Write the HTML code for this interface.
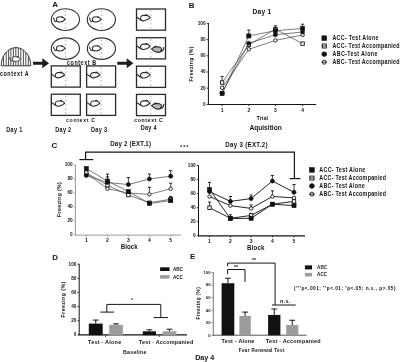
<!DOCTYPE html>
<html><head><meta charset="utf-8"><style>
html,body{margin:0;padding:0;background:#fff;}
svg{display:block;filter:blur(0.3px);}
text{font-family:"Liberation Sans", sans-serif;font-weight:bold;fill:#151515;}
</style></head><body>
<svg width="400" height="362" viewBox="0 0 400 362">
<rect width="400" height="362" fill="#fff"/>
<text x="52.2" y="7.4" font-size="8.0" >A</text>
<ellipse cx="65.4" cy="19.6" rx="14.1" ry="10.9" fill="none" stroke="#333" stroke-width="1.15"/>
<line x1="65.4" y1="10.500000000000002" x2="65.4" y2="29.5" stroke="#9a9a9a" stroke-width="0.9" stroke-dasharray="1.4 2.8"/>
<g transform="translate(65.2 19.400000000000002) scale(1.0 1.0)" stroke="#2e2e2e" stroke-width="1.1" fill="#fff" stroke-linejoin="round">
<path d="M0 0 C-1.2 -1.8 -3 -2.6 -5 -2.6 C-7.4 -2.6 -8.8 -1.2 -8.8 0.3 C-8.8 1.9 -7.2 2.7 -5.2 2.6 C-2.8 2.5 -1.2 1.4 0 0 Z"/>
<circle cx="-3.2" cy="-2.3" r="0.9" fill="#333" stroke="none"/>
<path d="M-8.3 1.4 C-9.6 2.8 -11.1 2.2 -11.7 -1.8" fill="none"/>
</g>
<ellipse cx="65.4" cy="48.6" rx="14.1" ry="10.8" fill="none" stroke="#333" stroke-width="1.15"/>
<line x1="65.4" y1="39.599999999999994" x2="65.4" y2="58.400000000000006" stroke="#9a9a9a" stroke-width="0.9" stroke-dasharray="1.4 2.8"/>
<g transform="translate(65.2 48.4) scale(1.0 1.0)" stroke="#2e2e2e" stroke-width="1.1" fill="#fff" stroke-linejoin="round">
<path d="M0 0 C-1.2 -1.8 -3 -2.6 -5 -2.6 C-7.4 -2.6 -8.8 -1.2 -8.8 0.3 C-8.8 1.9 -7.2 2.7 -5.2 2.6 C-2.8 2.5 -1.2 1.4 0 0 Z"/>
<circle cx="-3.2" cy="-2.3" r="0.9" fill="#333" stroke="none"/>
<path d="M-8.3 1.4 C-9.6 2.8 -11.1 2.2 -11.7 -1.8" fill="none"/>
</g>
<ellipse cx="101.4" cy="19.6" rx="14.1" ry="10.9" fill="none" stroke="#333" stroke-width="1.15"/>
<line x1="101.4" y1="10.500000000000002" x2="101.4" y2="29.5" stroke="#9a9a9a" stroke-width="0.9" stroke-dasharray="1.4 2.8"/>
<g transform="translate(101.2 19.400000000000002) scale(1.0 1.0)" stroke="#2e2e2e" stroke-width="1.1" fill="#fff" stroke-linejoin="round">
<path d="M0 0 C-1.2 -1.8 -3 -2.6 -5 -2.6 C-7.4 -2.6 -8.8 -1.2 -8.8 0.3 C-8.8 1.9 -7.2 2.7 -5.2 2.6 C-2.8 2.5 -1.2 1.4 0 0 Z"/>
<circle cx="-3.2" cy="-2.3" r="0.9" fill="#333" stroke="none"/>
<path d="M-8.3 1.4 C-9.6 2.8 -11.1 2.2 -11.7 -1.8" fill="none"/>
</g>
<ellipse cx="101.4" cy="48.6" rx="14.1" ry="10.8" fill="none" stroke="#333" stroke-width="1.15"/>
<line x1="101.4" y1="39.599999999999994" x2="101.4" y2="58.400000000000006" stroke="#9a9a9a" stroke-width="0.9" stroke-dasharray="1.4 2.8"/>
<g transform="translate(101.2 48.4) scale(1.0 1.0)" stroke="#2e2e2e" stroke-width="1.1" fill="#fff" stroke-linejoin="round">
<path d="M0 0 C-1.2 -1.8 -3 -2.6 -5 -2.6 C-7.4 -2.6 -8.8 -1.2 -8.8 0.3 C-8.8 1.9 -7.2 2.7 -5.2 2.6 C-2.8 2.5 -1.2 1.4 0 0 Z"/>
<circle cx="-3.2" cy="-2.3" r="0.9" fill="#333" stroke="none"/>
<path d="M-8.3 1.4 C-9.6 2.8 -11.1 2.2 -11.7 -1.8" fill="none"/>
</g>
<defs><clipPath id="dome"><path d="M1.2 65.8 A14.8 18.2 0 0 1 30.8 65.8 Z"/></clipPath></defs>
<g clip-path="url(#dome)">
<line x1="3.5" y1="46" x2="3.5" y2="66" stroke="#222" stroke-width="0.8" />
<line x1="6.2" y1="46" x2="6.2" y2="66" stroke="#222" stroke-width="0.8" />
<line x1="8.6" y1="46" x2="8.6" y2="66" stroke="#222" stroke-width="0.8" />
<line x1="10.9" y1="46" x2="10.9" y2="66" stroke="#222" stroke-width="0.8" />
<line x1="13.4" y1="46" x2="13.4" y2="66" stroke="#222" stroke-width="0.8" />
<line x1="15.8" y1="46" x2="15.8" y2="66" stroke="#222" stroke-width="0.8" />
<line x1="18.3" y1="46" x2="18.3" y2="66" stroke="#222" stroke-width="0.8" />
<line x1="20.8" y1="46" x2="20.8" y2="66" stroke="#222" stroke-width="0.8" />
<line x1="23.4" y1="46" x2="23.4" y2="66" stroke="#222" stroke-width="0.8" />
<line x1="25.8" y1="46" x2="25.8" y2="66" stroke="#222" stroke-width="0.8" />
<line x1="28.4" y1="46" x2="28.4" y2="66" stroke="#222" stroke-width="0.8" />
</g>
<g transform="translate(20.6 59.0) scale(0.95 0.95)" stroke="#555" stroke-width="1.1" fill="#fff" stroke-linejoin="round">
<path d="M0 0 C-1.2 -1.8 -3 -2.6 -5 -2.6 C-7.4 -2.6 -8.8 -1.2 -8.8 0.3 C-8.8 1.9 -7.2 2.7 -5.2 2.6 C-2.8 2.5 -1.2 1.4 0 0 Z"/>
<circle cx="-3.2" cy="-2.3" r="0.9" fill="#333" stroke="none"/>
<path d="M-8.3 1.4 C-9.6 2.8 -11.1 2.2 -11.7 -1.8" fill="none"/>
</g>
<path d="M1.2 65.8 A14.8 18.2 0 0 1 30.8 65.8 Z" fill="none" stroke="#2e2e2e" stroke-width="0.95"/>
<text x="0" y="0" font-size="6.3" textLength="33.76" lengthAdjust="spacing" transform="translate(0 76.3) scale(0.85 1)" >context A</text>
<path d="M33 61.75 L42.3 61.75 L42.3 58.3 L49.0 63.3 L42.3 68.3 L42.3 64.85 L33 64.85 Z" fill="#1e1e1e"/>
<path d="M117.3 61.650000000000006 L126.7 61.650000000000006 L126.7 58.2 L133.4 63.2 L126.7 68.2 L126.7 64.75 L117.3 64.75 Z" fill="#1e1e1e"/>
<text x="0" y="0" font-size="6.3" textLength="34.12" lengthAdjust="spacing" transform="translate(67 65.0) scale(0.85 1)" >context B</text>
<rect x="51.3" y="65.9" width="29.0" height="21.2" fill="none" stroke="#2a2a2a" stroke-width="1.3"/>
<line x1="65.7" y1="67.4" x2="65.7" y2="85.9" stroke="#9a9a9a" stroke-width="0.9" stroke-dasharray="1.4 2.8"/>
<g transform="translate(64.75 74.75) scale(1.0 1.0)" stroke="#2e2e2e" stroke-width="1.1" fill="#fff" stroke-linejoin="round">
<path d="M0 0 C-1 -1.2 -2.2 -2 -3.8 -2.1 L-6.8 -2.1 C-8.6 -1.9 -9.6 -0.6 -9.4 1 C-9.2 2.4 -7.8 3.3 -6 3.1 C-3.5 2.8 -1.5 1.4 0 0 Z"/>
<path d="M-2.6 -1.6 C-2.9 -2.8 -4.2 -3 -4.7 -2.1" fill="none" stroke-width="1.1"/>
<path d="M-9 2 C-10 2.5 -11 1 -12 0.2 C-12.6 -0.2 -12.85 -0.4 -13.45 -0.4" fill="none"/>
</g>
<rect x="51.3" y="94.2" width="29.0" height="21.2" fill="none" stroke="#2a2a2a" stroke-width="1.3"/>
<line x1="65.7" y1="95.7" x2="65.7" y2="114.2" stroke="#9a9a9a" stroke-width="0.9" stroke-dasharray="1.4 2.8"/>
<g transform="translate(64.75 103.05) scale(1.0 1.0)" stroke="#2e2e2e" stroke-width="1.1" fill="#fff" stroke-linejoin="round">
<path d="M0 0 C-1 -1.2 -2.2 -2 -3.8 -2.1 L-6.8 -2.1 C-8.6 -1.9 -9.6 -0.6 -9.4 1 C-9.2 2.4 -7.8 3.3 -6 3.1 C-3.5 2.8 -1.5 1.4 0 0 Z"/>
<path d="M-2.6 -1.6 C-2.9 -2.8 -4.2 -3 -4.7 -2.1" fill="none" stroke-width="1.1"/>
<path d="M-9 2 C-10 2.5 -11 1 -12 0.2 C-12.6 -0.2 -12.85 -0.4 -13.45 -0.4" fill="none"/>
</g>
<rect x="86.6" y="65.9" width="29.0" height="21.2" fill="none" stroke="#2a2a2a" stroke-width="1.3"/>
<line x1="101.0" y1="67.4" x2="101.0" y2="85.9" stroke="#9a9a9a" stroke-width="0.9" stroke-dasharray="1.4 2.8"/>
<g transform="translate(100.05 74.75) scale(1.0 1.0)" stroke="#2e2e2e" stroke-width="1.1" fill="#fff" stroke-linejoin="round">
<path d="M0 0 C-1 -1.2 -2.2 -2 -3.8 -2.1 L-6.8 -2.1 C-8.6 -1.9 -9.6 -0.6 -9.4 1 C-9.2 2.4 -7.8 3.3 -6 3.1 C-3.5 2.8 -1.5 1.4 0 0 Z"/>
<path d="M-2.6 -1.6 C-2.9 -2.8 -4.2 -3 -4.7 -2.1" fill="none" stroke-width="1.1"/>
<path d="M-9 2 C-10 2.5 -11 1 -12 0.2 C-12.6 -0.2 -12.85 -0.4 -13.45 -0.4" fill="none"/>
</g>
<rect x="86.6" y="94.2" width="29.0" height="21.2" fill="none" stroke="#2a2a2a" stroke-width="1.3"/>
<line x1="101.0" y1="95.7" x2="101.0" y2="114.2" stroke="#9a9a9a" stroke-width="0.9" stroke-dasharray="1.4 2.8"/>
<g transform="translate(100.05 103.05) scale(1.0 1.0)" stroke="#2e2e2e" stroke-width="1.1" fill="#fff" stroke-linejoin="round">
<path d="M0 0 C-1 -1.2 -2.2 -2 -3.8 -2.1 L-6.8 -2.1 C-8.6 -1.9 -9.6 -0.6 -9.4 1 C-9.2 2.4 -7.8 3.3 -6 3.1 C-3.5 2.8 -1.5 1.4 0 0 Z"/>
<path d="M-2.6 -1.6 C-2.9 -2.8 -4.2 -3 -4.7 -2.1" fill="none" stroke-width="1.1"/>
<path d="M-9 2 C-10 2.5 -11 1 -12 0.2 C-12.6 -0.2 -12.85 -0.4 -13.45 -0.4" fill="none"/>
</g>
<text x="0" y="0" font-size="6.1" textLength="34.12" lengthAdjust="spacing" transform="translate(66 122.1) scale(0.85 1)" >context C</text>
<rect x="136.5" y="9.0" width="29.0" height="21.2" fill="none" stroke="#2a2a2a" stroke-width="1.3"/>
<line x1="150.75" y1="10.5" x2="150.75" y2="29.0" stroke="#9a9a9a" stroke-width="0.9" stroke-dasharray="1.4 2.8"/>
<g transform="translate(150.2 17.6) scale(1.03 1.03)" stroke="#2e2e2e" stroke-width="1.1" fill="#fff" stroke-linejoin="round">
<path d="M0 0 C-1 -1.2 -2.2 -2 -3.8 -2.1 L-6.8 -2.1 C-8.6 -1.9 -9.6 -0.6 -9.4 1 C-9.2 2.4 -7.8 3.3 -6 3.1 C-3.5 2.8 -1.5 1.4 0 0 Z"/>
<path d="M-2.6 -1.6 C-2.9 -2.8 -4.2 -3 -4.7 -2.1" fill="none" stroke-width="1.1"/>
<path d="M-9 2 C-10 2.5 -11 1 -12 0.2 C-12.6 -0.2 -12.9 -0.4 -13.5 -0.4" fill="none"/>
</g>
<rect x="136.5" y="37.7" width="29.0" height="21.2" fill="none" stroke="#2a2a2a" stroke-width="1.3"/>
<line x1="150.75" y1="39.2" x2="150.75" y2="57.7" stroke="#9a9a9a" stroke-width="0.9" stroke-dasharray="1.4 2.8"/>
<g transform="translate(150.2 46.300000000000004) scale(1.03 1.03)" stroke="#2e2e2e" stroke-width="1.1" fill="#fff" stroke-linejoin="round">
<path d="M0 0 C-1 -1.2 -2.2 -2 -3.8 -2.1 L-6.8 -2.1 C-8.6 -1.9 -9.6 -0.6 -9.4 1 C-9.2 2.4 -7.8 3.3 -6 3.1 C-3.5 2.8 -1.5 1.4 0 0 Z"/>
<path d="M-2.6 -1.6 C-2.9 -2.8 -4.2 -3 -4.7 -2.1" fill="none" stroke-width="1.1"/>
<path d="M-9 2 C-10 2.5 -11 1 -12 0.2 C-12.6 -0.2 -12.9 -0.4 -13.5 -0.4" fill="none"/>
</g>
<g transform="translate(151.6 49.1) scale(-1.05 1.05)" stroke="#2e2e2e" stroke-width="1.1" fill="#b8b8b8" stroke-linejoin="round">
<path d="M0 0 C-1 -1.2 -2.2 -2 -3.8 -2.1 L-6.8 -2.1 C-8.6 -1.9 -9.6 -0.6 -9.4 1 C-9.2 2.4 -7.8 3.3 -6 3.1 C-3.5 2.8 -1.5 1.4 0 0 Z"/>
<path d="M-2.6 -1.6 C-2.9 -2.8 -4.2 -3 -4.7 -2.1" fill="none" stroke-width="1.1"/>
<path d="M-8.3 1.4 C-9.6 2.8 -11.1 2.2 -11.7 -1.8" fill="none"/>
</g>
<rect x="136.5" y="66.2" width="29.0" height="21.2" fill="none" stroke="#2a2a2a" stroke-width="1.3"/>
<line x1="150.75" y1="67.7" x2="150.75" y2="86.2" stroke="#9a9a9a" stroke-width="0.9" stroke-dasharray="1.4 2.8"/>
<g transform="translate(150.2 74.8) scale(1.03 1.03)" stroke="#2e2e2e" stroke-width="1.1" fill="#fff" stroke-linejoin="round">
<path d="M0 0 C-1 -1.2 -2.2 -2 -3.8 -2.1 L-6.8 -2.1 C-8.6 -1.9 -9.6 -0.6 -9.4 1 C-9.2 2.4 -7.8 3.3 -6 3.1 C-3.5 2.8 -1.5 1.4 0 0 Z"/>
<path d="M-2.6 -1.6 C-2.9 -2.8 -4.2 -3 -4.7 -2.1" fill="none" stroke-width="1.1"/>
<path d="M-9 2 C-10 2.5 -11 1 -12 0.2 C-12.6 -0.2 -12.9 -0.4 -13.5 -0.4" fill="none"/>
</g>
<rect x="136.5" y="94.4" width="29.0" height="21.2" fill="none" stroke="#2a2a2a" stroke-width="1.3"/>
<line x1="150.75" y1="95.9" x2="150.75" y2="114.4" stroke="#9a9a9a" stroke-width="0.9" stroke-dasharray="1.4 2.8"/>
<g transform="translate(150.2 103.0) scale(1.03 1.03)" stroke="#2e2e2e" stroke-width="1.1" fill="#fff" stroke-linejoin="round">
<path d="M0 0 C-1 -1.2 -2.2 -2 -3.8 -2.1 L-6.8 -2.1 C-8.6 -1.9 -9.6 -0.6 -9.4 1 C-9.2 2.4 -7.8 3.3 -6 3.1 C-3.5 2.8 -1.5 1.4 0 0 Z"/>
<path d="M-2.6 -1.6 C-2.9 -2.8 -4.2 -3 -4.7 -2.1" fill="none" stroke-width="1.1"/>
<path d="M-9 2 C-10 2.5 -11 1 -12 0.2 C-12.6 -0.2 -12.9 -0.4 -13.5 -0.4" fill="none"/>
</g>
<g transform="translate(151.6 105.80000000000001) scale(-1.05 1.05)" stroke="#2e2e2e" stroke-width="1.1" fill="#b8b8b8" stroke-linejoin="round">
<path d="M0 0 C-1 -1.2 -2.2 -2 -3.8 -2.1 L-6.8 -2.1 C-8.6 -1.9 -9.6 -0.6 -9.4 1 C-9.2 2.4 -7.8 3.3 -6 3.1 C-3.5 2.8 -1.5 1.4 0 0 Z"/>
<path d="M-2.6 -1.6 C-2.9 -2.8 -4.2 -3 -4.7 -2.1" fill="none" stroke-width="1.1"/>
<path d="M-8.3 1.4 C-9.6 2.8 -11.1 2.2 -11.7 -1.8" fill="none"/>
</g>
<text x="0" y="0" font-size="6.1" textLength="33.65" lengthAdjust="spacing" transform="translate(134.2 121.8) scale(0.85 1)" >context C</text>
<text x="0" y="0" font-size="6.5" textLength="19.06" lengthAdjust="spacing" transform="translate(6.2 132.1) scale(0.85 1)" >Day 1</text>
<text x="0" y="0" font-size="6.5" textLength="18.82" lengthAdjust="spacing" transform="translate(55.2 132.1) scale(0.85 1)" >Day 2</text>
<text x="0" y="0" font-size="6.5" textLength="19.06" lengthAdjust="spacing" transform="translate(91 131.6) scale(0.85 1)" >Day 3</text>
<text x="0" y="0" font-size="6.5" textLength="18.59" lengthAdjust="spacing" transform="translate(140.7 129.9) scale(0.85 1)" >Day 4</text>
<text x="188.8" y="7.8" font-size="8.0" >B</text>
<text x="252.5" y="13.6" font-size="6.6" textLength="18.6" lengthAdjust="spacing" >Day 1</text>
<line x1="208.4" y1="23.0" x2="208.4" y2="104.9" stroke="#151515" stroke-width="1.0" />
<line x1="206.6" y1="104.4" x2="208.4" y2="104.4" stroke="#151515" stroke-width="0.8" />
<text x="205.6" y="105.892" font-size="4.7" text-anchor="end" >0</text>
<line x1="206.6" y1="88.2" x2="208.4" y2="88.2" stroke="#151515" stroke-width="0.8" />
<text x="205.6" y="89.692" font-size="4.7" text-anchor="end" >20</text>
<line x1="206.6" y1="72.0" x2="208.4" y2="72.0" stroke="#151515" stroke-width="0.8" />
<text x="205.6" y="73.49199999999999" font-size="4.7" text-anchor="end" >40</text>
<line x1="206.6" y1="55.800000000000004" x2="208.4" y2="55.800000000000004" stroke="#151515" stroke-width="0.8" />
<text x="205.6" y="57.292" font-size="4.7" text-anchor="end" >60</text>
<line x1="206.6" y1="39.60000000000001" x2="208.4" y2="39.60000000000001" stroke="#151515" stroke-width="0.8" />
<text x="205.6" y="41.092000000000006" font-size="4.7" text-anchor="end" >80</text>
<line x1="206.6" y1="23.400000000000006" x2="208.4" y2="23.400000000000006" stroke="#151515" stroke-width="0.8" />
<text x="205.6" y="24.892000000000007" font-size="4.7" text-anchor="end" >100</text>
<line x1="207.9" y1="104.5" x2="316.2" y2="104.5" stroke="#151515" stroke-width="1.2" />
<line x1="222.1" y1="104.4" x2="222.1" y2="106.2" stroke="#151515" stroke-width="0.8" />
<text x="222.1" y="112.2" font-size="5.0" text-anchor="middle" >1</text>
<line x1="248.8" y1="104.4" x2="248.8" y2="106.2" stroke="#151515" stroke-width="0.8" />
<text x="248.8" y="112.2" font-size="5.0" text-anchor="middle" >2</text>
<line x1="275.4" y1="104.4" x2="275.4" y2="106.2" stroke="#151515" stroke-width="0.8" />
<text x="275.4" y="112.2" font-size="5.0" text-anchor="middle" >3</text>
<line x1="302.6" y1="104.4" x2="302.6" y2="106.2" stroke="#151515" stroke-width="0.8" />
<text x="302.6" y="112.2" font-size="5.0" text-anchor="middle" >4</text>
<text x="256.6" y="120.1" font-size="5.5" textLength="11.4" lengthAdjust="spacing" >Trial</text>
<text x="249.4" y="129.6" font-size="6.6" textLength="32.4" lengthAdjust="spacing" >Aquisition</text>
<text x="0" y="0" font-size="6.2" text-anchor="middle" textLength="41.90" lengthAdjust="spacing" transform="translate(193.4 64) rotate(-90) scale(0.84 1)" >Freezing (%)</text>
<polyline points="222.10,87.80 248.80,49.32 275.40,40.41 302.60,34.98" stroke="#444" stroke-width="0.7" fill="none"/>
<polyline points="222.10,82.53 248.80,44.87 275.40,29.07 302.60,43.65" stroke="#444" stroke-width="0.7" fill="none"/>
<line x1="222.1" y1="82.53" x2="222.1" y2="76.455" stroke="#151515" stroke-width="0.8" />
<line x1="220.5" y1="76.455" x2="223.7" y2="76.455" stroke="#151515" stroke-width="0.9" />
<polyline points="222.10,93.06 248.80,43.25 275.40,34.74 302.60,31.99" stroke="#444" stroke-width="0.7" fill="none"/>
<polyline points="222.10,93.55 248.80,35.95 275.40,30.69 302.60,28.50" stroke="#444" stroke-width="0.7" fill="none"/>
<line x1="248.8" y1="35.955" x2="248.8" y2="30.041999999999998" stroke="#151515" stroke-width="0.8" />
<line x1="247.20000000000002" y1="30.041999999999998" x2="250.4" y2="30.041999999999998" stroke="#151515" stroke-width="0.9" />
<line x1="275.4" y1="30.689999999999998" x2="275.4" y2="25.83" stroke="#151515" stroke-width="0.8" />
<line x1="273.79999999999995" y1="25.83" x2="277.0" y2="25.83" stroke="#151515" stroke-width="0.9" />
<line x1="302.6" y1="28.503" x2="302.6" y2="24.21" stroke="#151515" stroke-width="0.8" />
<line x1="301.0" y1="24.21" x2="304.20000000000005" y2="24.21" stroke="#151515" stroke-width="0.9" />
<circle cx="222.1" cy="87.80" r="1.7000000000000002" fill="#fff" stroke="#111" stroke-width="0.9"/>
<circle cx="248.8" cy="49.32" r="1.7000000000000002" fill="#fff" stroke="#111" stroke-width="0.9"/>
<circle cx="275.4" cy="40.41" r="1.7000000000000002" fill="#fff" stroke="#111" stroke-width="0.9"/>
<circle cx="302.6" cy="34.98" r="1.7000000000000002" fill="#fff" stroke="#111" stroke-width="0.9"/>
<rect x="220.40" y="80.83" width="3.4000000000000004" height="3.4000000000000004" fill="#fff" stroke="#111" stroke-width="0.9"/>
<rect x="247.10" y="43.16" width="3.4000000000000004" height="3.4000000000000004" fill="#fff" stroke="#111" stroke-width="0.9"/>
<rect x="273.70" y="27.37" width="3.4000000000000004" height="3.4000000000000004" fill="#fff" stroke="#111" stroke-width="0.9"/>
<rect x="300.90" y="41.95" width="3.4000000000000004" height="3.4000000000000004" fill="#fff" stroke="#111" stroke-width="0.9"/>
<circle cx="222.1" cy="93.06" r="2.1" fill="#111" stroke="#111" stroke-width="0.5"/>
<circle cx="248.8" cy="43.25" r="2.1" fill="#111" stroke="#111" stroke-width="0.5"/>
<circle cx="275.4" cy="34.74" r="2.1" fill="#111" stroke="#111" stroke-width="0.5"/>
<circle cx="302.6" cy="31.99" r="2.1" fill="#111" stroke="#111" stroke-width="0.5"/>
<rect x="220.00" y="91.45" width="4.2" height="4.2" fill="#111" stroke="#111" stroke-width="0.5"/>
<rect x="246.70" y="33.85" width="4.2" height="4.2" fill="#111" stroke="#111" stroke-width="0.5"/>
<rect x="273.30" y="28.59" width="4.2" height="4.2" fill="#111" stroke="#111" stroke-width="0.5"/>
<rect x="300.50" y="26.40" width="4.2" height="4.2" fill="#111" stroke="#111" stroke-width="0.5"/>
<rect x="321.90" y="35.80" width="4.8" height="4.8" fill="#111" stroke="#111" stroke-width="0.5"/>
<line x1="321.6" y1="38.2" x2="327.0" y2="38.2" stroke="#151515" stroke-width="0.9" />
<text x="0" y="0" font-size="6.3" textLength="54.24" lengthAdjust="spacing" transform="translate(332.4 40.468) scale(0.85 1)" >ACC- Test Alone</text>
<rect x="322.30" y="44.00" width="4.0" height="4.0" fill="#fff" stroke="#111" stroke-width="0.9"/>
<line x1="321.6" y1="46.0" x2="327.0" y2="46.0" stroke="#151515" stroke-width="0.9" />
<text x="0" y="0" font-size="6.3" textLength="79.06" lengthAdjust="spacing" transform="translate(332.4 48.268) scale(0.85 1)" >ACC- Test Accompanied</text>
<circle cx="324.3" cy="54.20" r="2.4" fill="#111" stroke="#111" stroke-width="0.5"/>
<line x1="321.6" y1="54.2" x2="327.0" y2="54.2" stroke="#151515" stroke-width="0.9" />
<text x="0" y="0" font-size="6.3" textLength="53.06" lengthAdjust="spacing" transform="translate(332.4 56.468) scale(0.85 1)" >ABC-Test Alone</text>
<circle cx="324.3" cy="62.20" r="2.0" fill="#fff" stroke="#111" stroke-width="0.9"/>
<line x1="321.6" y1="62.2" x2="327.0" y2="62.2" stroke="#151515" stroke-width="0.9" />
<text x="0" y="0" font-size="6.3" textLength="79.06" lengthAdjust="spacing" transform="translate(332.4 64.468) scale(0.85 1)" >ABC- Test Accompanied</text>
<text x="51.6" y="148.4" font-size="8.0" >C</text>
<text x="0" y="0" font-size="7.0" textLength="46.36" lengthAdjust="spacing" transform="translate(110.2 146.4) scale(0.88 1)" >Day 2 (EXT.1)</text>
<text x="184.2" y="148.8" font-size="5.4" text-anchor="middle" textLength="8.4" lengthAdjust="spacing" >***</text>
<text x="0" y="0" font-size="7.0" textLength="48.07" lengthAdjust="spacing" transform="translate(225.2 146.5) scale(0.88 1)" >Day 3 (EXT.2)</text>
<polyline points="85.60,159.60 85.60,152.20 294.40,152.20 294.40,178.60" stroke="#151515" stroke-width="1.2" fill="none"/>
<line x1="79.4" y1="159.6" x2="93.2" y2="159.6" stroke="#151515" stroke-width="1.2" />
<line x1="289.6" y1="178.6" x2="300.4" y2="178.6" stroke="#151515" stroke-width="1.2" />
<line x1="75.4" y1="164.6" x2="75.4" y2="235.4" stroke="#999" stroke-width="1.0" />
<line x1="73.60000000000001" y1="234.9" x2="75.4" y2="234.9" stroke="#999" stroke-width="0.8" />
<text x="72.60000000000001" y="236.39200000000002" font-size="4.7" text-anchor="end" fill="#333" >0</text>
<line x1="73.60000000000001" y1="220.92000000000002" x2="75.4" y2="220.92000000000002" stroke="#999" stroke-width="0.8" />
<text x="72.60000000000001" y="222.41200000000003" font-size="4.7" text-anchor="end" fill="#333" >20</text>
<line x1="73.60000000000001" y1="206.94" x2="75.4" y2="206.94" stroke="#999" stroke-width="0.8" />
<text x="72.60000000000001" y="208.43200000000002" font-size="4.7" text-anchor="end" fill="#333" >40</text>
<line x1="73.60000000000001" y1="192.96" x2="75.4" y2="192.96" stroke="#999" stroke-width="0.8" />
<text x="72.60000000000001" y="194.45200000000003" font-size="4.7" text-anchor="end" fill="#333" >60</text>
<line x1="73.60000000000001" y1="178.98000000000002" x2="75.4" y2="178.98000000000002" stroke="#999" stroke-width="0.8" />
<text x="72.60000000000001" y="180.47200000000004" font-size="4.7" text-anchor="end" fill="#333" >80</text>
<line x1="73.60000000000001" y1="165.0" x2="75.4" y2="165.0" stroke="#999" stroke-width="0.8" />
<text x="72.60000000000001" y="166.49200000000002" font-size="4.7" text-anchor="end" fill="#333" >100</text>
<line x1="74.9" y1="235.1" x2="181" y2="235.1" stroke="#999" stroke-width="1.0" />
<line x1="86.3" y1="235.1" x2="86.3" y2="237" stroke="#999" stroke-width="0.8" />
<text x="86.3" y="242.0" font-size="5.0" text-anchor="middle" fill="#333" >1</text>
<line x1="107.5" y1="235.1" x2="107.5" y2="237" stroke="#999" stroke-width="0.8" />
<text x="107.5" y="242.0" font-size="5.0" text-anchor="middle" fill="#333" >2</text>
<line x1="128.4" y1="235.1" x2="128.4" y2="237" stroke="#999" stroke-width="0.8" />
<text x="128.4" y="242.0" font-size="5.0" text-anchor="middle" fill="#333" >3</text>
<line x1="149.4" y1="235.1" x2="149.4" y2="237" stroke="#999" stroke-width="0.8" />
<text x="149.4" y="242.0" font-size="5.0" text-anchor="middle" fill="#333" >4</text>
<line x1="170.7" y1="235.1" x2="170.7" y2="237" stroke="#999" stroke-width="0.8" />
<text x="170.7" y="242.0" font-size="5.0" text-anchor="middle" fill="#333" >5</text>
<text x="0" y="0" font-size="6.7" textLength="18.37" lengthAdjust="spacing" transform="translate(120.7 249.3) scale(0.92 1)" >Block</text>
<text x="0" y="0" font-size="6.2" text-anchor="middle" textLength="41.43" lengthAdjust="spacing" transform="translate(60.9 199.6) rotate(-90) scale(0.84 1)" >Freezing (%)</text>
<polyline points="86.30,173.39 107.50,188.77 128.40,192.96 149.40,194.36 170.70,188.77" stroke="#444" stroke-width="0.7" fill="none"/>
<line x1="149.4" y1="194.358" x2="149.4" y2="187.368" stroke="#151515" stroke-width="0.8" />
<line x1="147.8" y1="187.368" x2="151.0" y2="187.368" stroke="#151515" stroke-width="0.9" />
<line x1="170.7" y1="188.76600000000002" x2="170.7" y2="183.174" stroke="#151515" stroke-width="0.8" />
<line x1="169.1" y1="183.174" x2="172.29999999999998" y2="183.174" stroke="#151515" stroke-width="0.9" />
<polyline points="86.30,172.69 107.50,185.27 128.40,195.06 149.40,202.75 170.70,199.25" stroke="#444" stroke-width="0.7" fill="none"/>
<polyline points="86.30,175.49 107.50,182.48 128.40,184.57 149.40,178.98 170.70,176.18" stroke="#444" stroke-width="0.7" fill="none"/>
<line x1="107.5" y1="182.47500000000002" x2="107.5" y2="176.883" stroke="#151515" stroke-width="0.8" />
<line x1="105.9" y1="176.883" x2="109.1" y2="176.883" stroke="#151515" stroke-width="0.9" />
<line x1="128.4" y1="184.572" x2="128.4" y2="177.582" stroke="#151515" stroke-width="0.8" />
<line x1="126.80000000000001" y1="177.582" x2="130.0" y2="177.582" stroke="#151515" stroke-width="0.9" />
<line x1="149.4" y1="178.98000000000002" x2="149.4" y2="174.08700000000002" stroke="#151515" stroke-width="0.8" />
<line x1="147.8" y1="174.08700000000002" x2="151.0" y2="174.08700000000002" stroke="#151515" stroke-width="0.9" />
<line x1="170.7" y1="176.18400000000003" x2="170.7" y2="170.592" stroke="#151515" stroke-width="0.8" />
<line x1="169.1" y1="170.592" x2="172.29999999999998" y2="170.592" stroke="#151515" stroke-width="0.9" />
<polyline points="86.30,168.50 107.50,181.08 128.40,191.56 149.40,203.44 170.70,200.65" stroke="#444" stroke-width="0.7" fill="none"/>
<line x1="107.5" y1="181.077" x2="107.5" y2="174.087" stroke="#151515" stroke-width="0.8" />
<line x1="105.9" y1="174.087" x2="109.1" y2="174.087" stroke="#151515" stroke-width="0.9" />
<line x1="170.7" y1="200.649" x2="170.7" y2="196.455" stroke="#151515" stroke-width="0.8" />
<line x1="169.1" y1="196.455" x2="172.29999999999998" y2="196.455" stroke="#151515" stroke-width="0.9" />
<circle cx="86.3" cy="173.39" r="1.7000000000000002" fill="#fff" stroke="#111" stroke-width="0.9"/>
<circle cx="107.5" cy="188.77" r="1.7000000000000002" fill="#fff" stroke="#111" stroke-width="0.9"/>
<circle cx="128.4" cy="192.96" r="1.7000000000000002" fill="#fff" stroke="#111" stroke-width="0.9"/>
<circle cx="149.4" cy="194.36" r="1.7000000000000002" fill="#fff" stroke="#111" stroke-width="0.9"/>
<circle cx="170.7" cy="188.77" r="1.7000000000000002" fill="#fff" stroke="#111" stroke-width="0.9"/>
<rect x="84.60" y="170.99" width="3.4000000000000004" height="3.4000000000000004" fill="#fff" stroke="#111" stroke-width="0.9"/>
<rect x="105.80" y="183.57" width="3.4000000000000004" height="3.4000000000000004" fill="#fff" stroke="#111" stroke-width="0.9"/>
<rect x="126.70" y="193.36" width="3.4000000000000004" height="3.4000000000000004" fill="#fff" stroke="#111" stroke-width="0.9"/>
<rect x="147.70" y="201.05" width="3.4000000000000004" height="3.4000000000000004" fill="#fff" stroke="#111" stroke-width="0.9"/>
<rect x="169.00" y="197.55" width="3.4000000000000004" height="3.4000000000000004" fill="#fff" stroke="#111" stroke-width="0.9"/>
<circle cx="86.3" cy="175.49" r="2.1" fill="#111" stroke="#111" stroke-width="0.5"/>
<circle cx="107.5" cy="182.48" r="2.1" fill="#111" stroke="#111" stroke-width="0.5"/>
<circle cx="128.4" cy="184.57" r="2.1" fill="#111" stroke="#111" stroke-width="0.5"/>
<circle cx="149.4" cy="178.98" r="2.1" fill="#111" stroke="#111" stroke-width="0.5"/>
<circle cx="170.7" cy="176.18" r="2.1" fill="#111" stroke="#111" stroke-width="0.5"/>
<rect x="84.20" y="166.40" width="4.2" height="4.2" fill="#111" stroke="#111" stroke-width="0.5"/>
<rect x="105.40" y="178.98" width="4.2" height="4.2" fill="#111" stroke="#111" stroke-width="0.5"/>
<rect x="126.30" y="189.46" width="4.2" height="4.2" fill="#111" stroke="#111" stroke-width="0.5"/>
<rect x="147.30" y="201.34" width="4.2" height="4.2" fill="#111" stroke="#111" stroke-width="0.5"/>
<rect x="168.60" y="198.55" width="4.2" height="4.2" fill="#111" stroke="#111" stroke-width="0.5"/>
<line x1="198.5" y1="165.2" x2="198.5" y2="236.3" stroke="#151515" stroke-width="1.0" />
<line x1="196.7" y1="235.8" x2="198.5" y2="235.8" stroke="#151515" stroke-width="0.8" />
<text x="195.7" y="237.29200000000003" font-size="4.7" text-anchor="end" >0</text>
<line x1="196.7" y1="221.76000000000002" x2="198.5" y2="221.76000000000002" stroke="#151515" stroke-width="0.8" />
<text x="195.7" y="223.25200000000004" font-size="4.7" text-anchor="end" >20</text>
<line x1="196.7" y1="207.72" x2="198.5" y2="207.72" stroke="#151515" stroke-width="0.8" />
<text x="195.7" y="209.21200000000002" font-size="4.7" text-anchor="end" >40</text>
<line x1="196.7" y1="193.68" x2="198.5" y2="193.68" stroke="#151515" stroke-width="0.8" />
<text x="195.7" y="195.17200000000003" font-size="4.7" text-anchor="end" >60</text>
<line x1="196.7" y1="179.64" x2="198.5" y2="179.64" stroke="#151515" stroke-width="0.8" />
<text x="195.7" y="181.132" font-size="4.7" text-anchor="end" >80</text>
<line x1="196.7" y1="165.6" x2="198.5" y2="165.6" stroke="#151515" stroke-width="0.8" />
<text x="195.7" y="167.092" font-size="4.7" text-anchor="end" >100</text>
<line x1="198.0" y1="235.8" x2="305" y2="235.8" stroke="#151515" stroke-width="1.2" />
<line x1="209.5" y1="235.8" x2="209.5" y2="237.6" stroke="#151515" stroke-width="0.8" />
<text x="209.5" y="243.2" font-size="5.0" text-anchor="middle" >1</text>
<line x1="230.4" y1="235.8" x2="230.4" y2="237.6" stroke="#151515" stroke-width="0.8" />
<text x="230.4" y="243.2" font-size="5.0" text-anchor="middle" >2</text>
<line x1="251.1" y1="235.8" x2="251.1" y2="237.6" stroke="#151515" stroke-width="0.8" />
<text x="251.1" y="243.2" font-size="5.0" text-anchor="middle" >3</text>
<line x1="272.4" y1="235.8" x2="272.4" y2="237.6" stroke="#151515" stroke-width="0.8" />
<text x="272.4" y="243.2" font-size="5.0" text-anchor="middle" >4</text>
<line x1="294.0" y1="235.8" x2="294.0" y2="237.6" stroke="#151515" stroke-width="0.8" />
<text x="294.0" y="243.2" font-size="5.0" text-anchor="middle" >5</text>
<text x="0" y="0" font-size="6.7" textLength="18.91" lengthAdjust="spacing" transform="translate(247 249.6) scale(0.92 1)" >Block</text>
<polyline points="209.50,196.49 230.40,205.61 251.10,208.42 272.40,196.49 294.00,197.89" stroke="#262626" stroke-width="1.0" fill="none"/>
<line x1="251.1" y1="208.42200000000003" x2="251.1" y2="204.91200000000003" stroke="#151515" stroke-width="0.8" />
<line x1="249.5" y1="204.91200000000003" x2="252.7" y2="204.91200000000003" stroke="#151515" stroke-width="0.9" />
<line x1="272.4" y1="196.488" x2="272.4" y2="190.872" stroke="#151515" stroke-width="0.8" />
<line x1="270.79999999999995" y1="190.872" x2="274.0" y2="190.872" stroke="#151515" stroke-width="0.9" />
<polyline points="209.50,207.72 230.40,218.25 251.10,215.44 272.40,204.21 294.00,201.40" stroke="#262626" stroke-width="1.0" fill="none"/>
<line x1="209.5" y1="207.72000000000003" x2="209.5" y2="202.10400000000004" stroke="#151515" stroke-width="0.8" />
<line x1="207.9" y1="202.10400000000004" x2="211.1" y2="202.10400000000004" stroke="#151515" stroke-width="0.9" />
<line x1="230.4" y1="218.25" x2="230.4" y2="214.74" stroke="#151515" stroke-width="0.8" />
<line x1="228.8" y1="214.74" x2="232.0" y2="214.74" stroke="#151515" stroke-width="0.9" />
<line x1="251.1" y1="215.442" x2="251.1" y2="213.336" stroke="#151515" stroke-width="0.8" />
<line x1="249.5" y1="213.336" x2="252.7" y2="213.336" stroke="#151515" stroke-width="0.9" />
<line x1="294.0" y1="201.40200000000002" x2="294.0" y2="197.19000000000003" stroke="#151515" stroke-width="0.8" />
<line x1="292.4" y1="197.19000000000003" x2="295.6" y2="197.19000000000003" stroke="#151515" stroke-width="0.9" />
<polyline points="209.50,191.57 230.40,201.40 251.10,198.59 272.40,181.04 294.00,192.28" stroke="#262626" stroke-width="1.0" fill="none"/>
<line x1="230.4" y1="201.40200000000002" x2="230.4" y2="196.48800000000003" stroke="#151515" stroke-width="0.8" />
<line x1="228.8" y1="196.48800000000003" x2="232.0" y2="196.48800000000003" stroke="#151515" stroke-width="0.9" />
<line x1="251.1" y1="198.59400000000002" x2="251.1" y2="195.08400000000003" stroke="#151515" stroke-width="0.8" />
<line x1="249.5" y1="195.08400000000003" x2="252.7" y2="195.08400000000003" stroke="#151515" stroke-width="0.9" />
<line x1="272.4" y1="181.044" x2="272.4" y2="175.428" stroke="#151515" stroke-width="0.8" />
<line x1="270.79999999999995" y1="175.428" x2="274.0" y2="175.428" stroke="#151515" stroke-width="0.9" />
<line x1="294.0" y1="192.276" x2="294.0" y2="184.554" stroke="#151515" stroke-width="0.8" />
<line x1="292.4" y1="184.554" x2="295.6" y2="184.554" stroke="#151515" stroke-width="0.9" />
<polyline points="209.50,189.47 230.40,218.60 251.10,218.25 272.40,204.21 294.00,205.61" stroke="#262626" stroke-width="1.0" fill="none"/>
<line x1="209.5" y1="189.46800000000002" x2="209.5" y2="182.448" stroke="#151515" stroke-width="0.8" />
<line x1="207.9" y1="182.448" x2="211.1" y2="182.448" stroke="#151515" stroke-width="0.9" />
<circle cx="209.5" cy="196.49" r="1.7000000000000002" fill="#fff" stroke="#111" stroke-width="0.9"/>
<circle cx="230.4" cy="205.61" r="1.7000000000000002" fill="#fff" stroke="#111" stroke-width="0.9"/>
<circle cx="251.1" cy="208.42" r="1.7000000000000002" fill="#fff" stroke="#111" stroke-width="0.9"/>
<circle cx="272.4" cy="196.49" r="1.7000000000000002" fill="#fff" stroke="#111" stroke-width="0.9"/>
<circle cx="294.0" cy="197.89" r="1.7000000000000002" fill="#fff" stroke="#111" stroke-width="0.9"/>
<rect x="207.80" y="206.02" width="3.4000000000000004" height="3.4000000000000004" fill="#fff" stroke="#111" stroke-width="0.9"/>
<rect x="228.70" y="216.55" width="3.4000000000000004" height="3.4000000000000004" fill="#fff" stroke="#111" stroke-width="0.9"/>
<rect x="249.40" y="213.74" width="3.4000000000000004" height="3.4000000000000004" fill="#fff" stroke="#111" stroke-width="0.9"/>
<rect x="270.70" y="202.51" width="3.4000000000000004" height="3.4000000000000004" fill="#fff" stroke="#111" stroke-width="0.9"/>
<rect x="292.30" y="199.70" width="3.4000000000000004" height="3.4000000000000004" fill="#fff" stroke="#111" stroke-width="0.9"/>
<circle cx="209.5" cy="191.57" r="2.1" fill="#111" stroke="#111" stroke-width="0.5"/>
<circle cx="230.4" cy="201.40" r="2.1" fill="#111" stroke="#111" stroke-width="0.5"/>
<circle cx="251.1" cy="198.59" r="2.1" fill="#111" stroke="#111" stroke-width="0.5"/>
<circle cx="272.4" cy="181.04" r="2.1" fill="#111" stroke="#111" stroke-width="0.5"/>
<circle cx="294.0" cy="192.28" r="2.1" fill="#111" stroke="#111" stroke-width="0.5"/>
<rect x="207.40" y="187.37" width="4.2" height="4.2" fill="#111" stroke="#111" stroke-width="0.5"/>
<rect x="228.30" y="216.50" width="4.2" height="4.2" fill="#111" stroke="#111" stroke-width="0.5"/>
<rect x="249.00" y="216.15" width="4.2" height="4.2" fill="#111" stroke="#111" stroke-width="0.5"/>
<rect x="270.30" y="202.11" width="4.2" height="4.2" fill="#111" stroke="#111" stroke-width="0.5"/>
<rect x="291.90" y="203.51" width="4.2" height="4.2" fill="#111" stroke="#111" stroke-width="0.5"/>
<rect x="309.50" y="167.50" width="4.8" height="4.8" fill="#111" stroke="#111" stroke-width="0.5"/>
<line x1="309.2" y1="169.9" x2="314.59999999999997" y2="169.9" stroke="#151515" stroke-width="0.9" />
<text x="0" y="0" font-size="6.3" textLength="54.00" lengthAdjust="spacing" transform="translate(319.3 172.168) scale(0.85 1)" >ACC- Test Alone</text>
<rect x="309.90" y="176.10" width="4.0" height="4.0" fill="#fff" stroke="#111" stroke-width="0.9"/>
<line x1="309.2" y1="178.1" x2="314.59999999999997" y2="178.1" stroke="#151515" stroke-width="0.9" />
<text x="0" y="0" font-size="6.3" textLength="78.59" lengthAdjust="spacing" transform="translate(319.3 180.368) scale(0.85 1)" >ACC- Test Accompanied</text>
<circle cx="311.9" cy="186.00" r="2.4" fill="#111" stroke="#111" stroke-width="0.5"/>
<line x1="309.2" y1="186.0" x2="314.59999999999997" y2="186.0" stroke="#151515" stroke-width="0.9" />
<text x="0" y="0" font-size="6.3" textLength="53.41" lengthAdjust="spacing" transform="translate(319.3 188.268) scale(0.85 1)" >ABC- Test Alone</text>
<circle cx="311.9" cy="194.20" r="2.0" fill="#fff" stroke="#111" stroke-width="0.9"/>
<line x1="309.2" y1="194.2" x2="314.59999999999997" y2="194.2" stroke="#151515" stroke-width="0.9" />
<text x="0" y="0" font-size="6.3" textLength="78.59" lengthAdjust="spacing" transform="translate(319.3 196.468) scale(0.85 1)" >ABC- Test Accompanied</text>
<text x="52.2" y="259.5" font-size="8.0" >D</text>
<line x1="79.2" y1="263.8" x2="79.2" y2="335.3" stroke="#151515" stroke-width="1.0" />
<line x1="77.4" y1="334.8" x2="79.2" y2="334.8" stroke="#151515" stroke-width="0.8" />
<text x="76.4" y="336.29200000000003" font-size="4.7" text-anchor="end" >0</text>
<line x1="77.4" y1="320.68" x2="79.2" y2="320.68" stroke="#151515" stroke-width="0.8" />
<text x="76.4" y="322.172" font-size="4.7" text-anchor="end" >20</text>
<line x1="77.4" y1="306.56" x2="79.2" y2="306.56" stroke="#151515" stroke-width="0.8" />
<text x="76.4" y="308.052" font-size="4.7" text-anchor="end" >40</text>
<line x1="77.4" y1="292.44" x2="79.2" y2="292.44" stroke="#151515" stroke-width="0.8" />
<text x="76.4" y="293.932" font-size="4.7" text-anchor="end" >60</text>
<line x1="77.4" y1="278.32" x2="79.2" y2="278.32" stroke="#151515" stroke-width="0.8" />
<text x="76.4" y="279.812" font-size="4.7" text-anchor="end" >80</text>
<line x1="77.4" y1="264.2" x2="79.2" y2="264.2" stroke="#151515" stroke-width="0.8" />
<text x="76.4" y="265.692" font-size="4.7" text-anchor="end" >100</text>
<line x1="78.7" y1="334.9" x2="187" y2="334.9" stroke="#151515" stroke-width="1.2" />
<line x1="105.5" y1="335.2" x2="105.5" y2="337" stroke="#151515" stroke-width="0.8" />
<line x1="159.2" y1="335.2" x2="159.2" y2="337" stroke="#151515" stroke-width="0.8" />
<rect x="88.8" y="323.61" width="13.90" height="11.59" fill="#111"/>
<line x1="95.75" y1="323.60519999999997" x2="95.75" y2="320.07019999999994" stroke="#151515" stroke-width="1.0" />
<line x1="92.85" y1="320.07019999999994" x2="98.65" y2="320.07019999999994" stroke="#151515" stroke-width="1.0" />
<rect x="109.2" y="324.88" width="13.70" height="10.32" fill="#9c9c9c"/>
<line x1="116.05000000000001" y1="324.8778" x2="116.05000000000001" y2="323.8173" stroke="#151515" stroke-width="1.0" />
<line x1="113.15" y1="323.8173" x2="118.95000000000002" y2="323.8173" stroke="#151515" stroke-width="1.0" />
<rect x="142.8" y="331.31" width="13.20" height="3.89" fill="#111"/>
<line x1="149.4" y1="331.31149999999997" x2="149.4" y2="329.75609999999995" stroke="#151515" stroke-width="1.0" />
<line x1="146.5" y1="329.75609999999995" x2="152.3" y2="329.75609999999995" stroke="#151515" stroke-width="1.0" />
<rect x="162.7" y="331.31" width="13.70" height="3.89" fill="#9c9c9c"/>
<line x1="169.55" y1="331.31149999999997" x2="169.55" y2="329.1905" stroke="#151515" stroke-width="1.0" />
<line x1="166.65" y1="329.1905" x2="172.45000000000002" y2="329.1905" stroke="#151515" stroke-width="1.0" />
<polyline points="106.80,312.10 106.80,304.40 160.80,304.40 160.80,317.60" stroke="#151515" stroke-width="1.0" fill="none"/>
<line x1="100.3" y1="312.1" x2="114" y2="312.1" stroke="#151515" stroke-width="1.0" />
<line x1="153.6" y1="317.6" x2="168" y2="317.6" stroke="#151515" stroke-width="1.0" />
<text x="132" y="302.3" font-size="4.6" text-anchor="middle" >*</text>
<text x="0" y="0" font-size="6.2" textLength="37.73" lengthAdjust="spacing" transform="translate(88 343.7) scale(0.88 1)" >Test - Alone</text>
<text x="0" y="0" font-size="6.2" textLength="62.05" lengthAdjust="spacing" transform="translate(138.8 343.7) scale(0.88 1)" >Test - Accompanied</text>
<text x="0" y="0" font-size="6.0" textLength="26.82" lengthAdjust="spacing" transform="translate(122.9 353.8) scale(0.88 1)" >Baseline</text>
<text x="0" y="0" font-size="6.2" text-anchor="middle" textLength="42.38" lengthAdjust="spacing" transform="translate(64.6 299.6) rotate(-90) scale(0.84 1)" >Freezing (%)</text>
<rect x="160.1" y="267.3" width="9.4" height="3.7" fill="#111" stroke="none" stroke-width="1"/>
<rect x="160.1" y="275.1" width="9.4" height="3.6" fill="#9c9c9c" stroke="none" stroke-width="1"/>
<text x="172.9" y="270.6" font-size="4.6" textLength="9.9" lengthAdjust="spacing" >ABC</text>
<text x="172.9" y="278.6" font-size="4.6" textLength="9.9" lengthAdjust="spacing" >ACC</text>
<text x="190.0" y="259.3" font-size="8.0" >E</text>
<line x1="213.3" y1="272.1" x2="213.3" y2="335.9" stroke="#777" stroke-width="1.0" />
<line x1="211.5" y1="335.4" x2="213.3" y2="335.4" stroke="#777" stroke-width="0.8" />
<text x="210.5" y="336.712" font-size="4.2" text-anchor="end" fill="#444" >0</text>
<line x1="211.5" y1="322.82" x2="213.3" y2="322.82" stroke="#777" stroke-width="0.8" />
<text x="210.5" y="324.132" font-size="4.2" text-anchor="end" fill="#444" >20</text>
<line x1="211.5" y1="310.24" x2="213.3" y2="310.24" stroke="#777" stroke-width="0.8" />
<text x="210.5" y="311.552" font-size="4.2" text-anchor="end" fill="#444" >40</text>
<line x1="211.5" y1="297.65999999999997" x2="213.3" y2="297.65999999999997" stroke="#777" stroke-width="0.8" />
<text x="210.5" y="298.972" font-size="4.2" text-anchor="end" fill="#444" >60</text>
<line x1="211.5" y1="285.08" x2="213.3" y2="285.08" stroke="#777" stroke-width="0.8" />
<text x="210.5" y="286.392" font-size="4.2" text-anchor="end" fill="#444" >80</text>
<line x1="211.5" y1="272.5" x2="213.3" y2="272.5" stroke="#777" stroke-width="0.8" />
<text x="210.5" y="273.812" font-size="4.2" text-anchor="end" fill="#444" >100</text>
<line x1="213.3" y1="335.2" x2="306.5" y2="335.2" stroke="#555" stroke-width="1.0" />
<rect x="221.6" y="283.26" width="12.70" height="52.04" fill="#111"/>
<line x1="227.95" y1="283.259" x2="227.95" y2="278.243" stroke="#151515" stroke-width="1.0" />
<line x1="225.04999999999998" y1="278.243" x2="230.85" y2="278.243" stroke="#151515" stroke-width="1.0" />
<rect x="239.4" y="315.86" width="11.40" height="19.44" fill="#9c9c9c"/>
<line x1="245.10000000000002" y1="315.863" x2="245.10000000000002" y2="312.101" stroke="#151515" stroke-width="1.0" />
<line x1="242.20000000000002" y1="312.101" x2="248.00000000000003" y2="312.101" stroke="#151515" stroke-width="1.0" />
<rect x="268.1" y="314.92" width="12.30" height="20.38" fill="#111"/>
<line x1="274.25" y1="314.9225" x2="274.25" y2="308.966" stroke="#151515" stroke-width="1.0" />
<line x1="271.35" y1="308.966" x2="277.15" y2="308.966" stroke="#151515" stroke-width="1.0" />
<rect x="286.2" y="324.95" width="12.10" height="10.35" fill="#9c9c9c"/>
<line x1="292.25" y1="324.9545" x2="292.25" y2="320.252" stroke="#151515" stroke-width="1.0" />
<line x1="289.35" y1="320.252" x2="295.15" y2="320.252" stroke="#151515" stroke-width="1.0" />
<polyline points="227.60,266.20 227.60,263.10 275.10,263.10 275.10,305.00" stroke="#151515" stroke-width="1.0" fill="none"/>
<polyline points="227.60,274.30 227.60,269.50 245.00,269.50 245.00,282.00" stroke="#151515" stroke-width="1.0" fill="none"/>
<line x1="272" y1="305" x2="295.7" y2="305" stroke="#151515" stroke-width="1.0" />
<text x="236" y="269.3" font-size="5.2" text-anchor="middle" >**</text>
<text x="254" y="261.6" font-size="5.2" text-anchor="middle" >**</text>
<text x="285.2" y="303.3" font-size="5.4" text-anchor="middle" textLength="10.4" lengthAdjust="spacing" >n.s.</text>
<text x="0" y="0" font-size="6.2" textLength="37.39" lengthAdjust="spacing" transform="translate(221.5 342.6) scale(0.88 1)" >Test - Alone</text>
<text x="0" y="0" font-size="6.2" textLength="62.16" lengthAdjust="spacing" transform="translate(265.8 342.6) scale(0.88 1)" >Test - Accompanied</text>
<text x="0" y="0" font-size="5.3" textLength="51.93" lengthAdjust="spacing" transform="translate(238.8 351.8) scale(0.88 1)" >Fear Renewal Test</text>
<text x="0" y="0" font-size="5.6" text-anchor="middle" textLength="38.33" lengthAdjust="spacing" transform="translate(199.6 303.4) rotate(-90) scale(0.84 1)" >Freezing (%)</text>
<rect x="304.9" y="265.4" width="7.1" height="4.0" fill="#111" stroke="none" stroke-width="1"/>
<rect x="304.9" y="272.9" width="7.1" height="3.6" fill="#9c9c9c" stroke="none" stroke-width="1"/>
<text x="317.1" y="269.0" font-size="4.6" textLength="10.1" lengthAdjust="spacing" >ABC</text>
<text x="317.1" y="276.1" font-size="4.6" textLength="10.1" lengthAdjust="spacing" >ACC</text>
<text x="0" y="0" font-size="5.6" textLength="117.5" lengthAdjust="spacing" transform="translate(293.9 289.6) scale(0.865 1)">(<tspan font-size="4.2" dy="-0.6">***</tspan><tspan dy="0.6">p&lt;.001; </tspan><tspan font-size="4.2" dy="-0.6">**</tspan><tspan dy="0.6">p&lt;.01; </tspan><tspan font-size="4.2" dy="-0.6">*</tspan><tspan dy="0.6">p&lt;.05; n.s., p&gt;.05)</tspan></text>
<text x="195.2" y="360.2" font-size="7.3" textLength="19.0" lengthAdjust="spacing" >Day 4</text>
</svg>
</body></html>
